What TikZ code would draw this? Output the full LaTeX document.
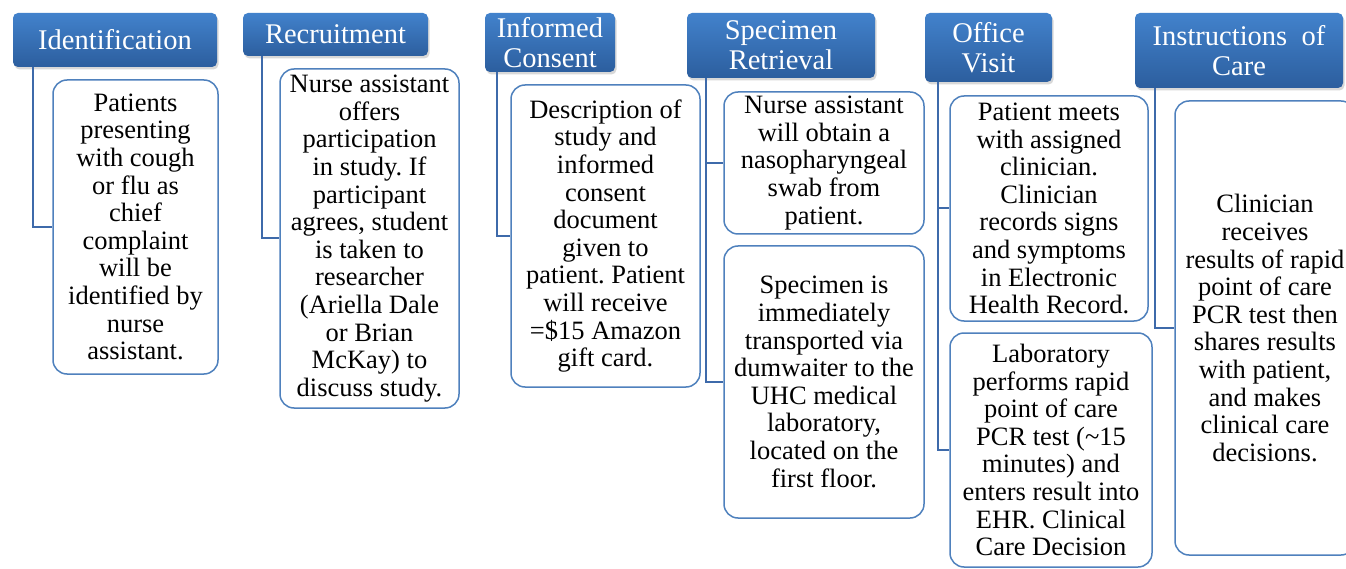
\documentclass[tikz,border=0pt]{standalone}
\usepackage{fontspec}
\setmainfont{Liberation Serif}
\frenchspacing
\usetikzlibrary{shadows}
\definecolor{hdrtop}{RGB}{66,130,204}
\definecolor{hdrbot}{RGB}{44,94,158}
\definecolor{boxline}{RGB}{79,129,189}
\definecolor{connline}{RGB}{62,106,170}
\tikzset{
  hdr/.style={rounded corners=5pt, top color=hdrtop, bottom color=hdrbot, draw=none,
    text=white, align=center, inner sep=0pt,
    font=\fontsize{28.5}{30}\selectfont,
    drop shadow={opacity=0.3, shadow xshift=1.5pt, shadow yshift=-2.5pt}},
  childbox/.style={rounded corners=14pt, draw=boxline, line width=1.5pt, fill=white,
    align=center, inner sep=0pt, text=black,
    font=\frenchspacing\fontsize{26.5}{27.6}\selectfont},
  conn/.style={draw=connline, line width=2pt}
}
\begin{document}
\begin{tikzpicture}[x=1pt,y=-1pt]
\useasboundingbox (0,0) rectangle (1346,569);
\clip (0,0) rectangle (1346,569);
\fill[white] (0,0) rectangle (1346,569);

% headers
\node[hdr, minimum width=204pt, minimum height=54pt] (h1) at (115,40) {Identification};
\node[hdr, minimum width=185pt, minimum height=43pt] (h2) at (335.5,34.5) {Recruitment};
\node[hdr, minimum width=130pt, minimum height=59pt] (h3) at (550,42.5) {Informed\\Consent};
\node[hdr, minimum width=188pt, minimum height=65pt] (h4) at (781,45.5) {Specimen\\Retrieval};
\node[hdr, minimum width=127pt, minimum height=69pt] (h5) at (988.5,47.5) {Office\\Visit};
\node[hdr, minimum width=208pt, minimum height=75pt] (h6) at (1239,50.5) {Instructions\ \ of\\Care};

% child boxes
\node[childbox, minimum width=165pt, minimum height=294pt] (c1) at (135.5,227)
  {Patients\\presenting\\with cough\\or flu as\\chief\\complaint\\will be\\identified by\\nurse\\assistant.};
\node[childbox, minimum width=179pt, minimum height=339pt] (c2) at (369.5,238.5)
  {Nurse assistant\\offers\\participation\\in study. If\\participant\\agrees, student\\is taken to\\researcher\\(Ariella Dale\\or Brian\\McKay) to\\discuss study.};
\node[childbox, minimum width=189pt, minimum height=302pt] (c3) at (605.5,236)
  {Description of\\study and\\informed\\consent\\document\\given to\\patient. Patient\\will receive\\=\$15 Amazon\\gift card.};
\node[childbox, minimum width=200pt, minimum height=142pt] (c4a) at (824,163)
  {Nurse assistant\\will obtain a\\nasopharyngeal\\swab from\\patient.};
\node[childbox, minimum width=200pt, minimum height=272pt] (c4b) at (824,382)
  {Specimen is\\immediately\\transported via\\dumwaiter to the\\UHC medical\\laboratory,\\located on the\\first floor.};
\node[childbox, minimum width=198pt, minimum height=225pt] (c5a) at (1049,208.5)
  {Patient meets\\with assigned\\clinician.\\Clinician\\records signs\\and symptoms\\in Electronic\\Health Record.};
\node[childbox, minimum width=202pt, minimum height=234pt] (c5b) at (1051,450)
  {Laboratory\\performs rapid\\point of care\\PCR test (\textasciitilde15\\minutes) and\\enters result into\\EHR. Clinical\\Care Decision};
\node[childbox, minimum width=180pt, minimum height=454pt] (c6) at (1265,328)
  {Clinician\\receives\\results of rapid\\point of care\\PCR test then\\shares results\\with patient,\\and makes\\clinical care\\decisions.};

% connectors
\draw[conn] ([xshift=20pt]h1.south west) |- (c1.west);
\draw[conn] ([xshift=19pt]h2.south west) |- (c2.west);
\draw[conn] ([xshift=12pt]h3.south west) |- (c3.west);
\draw[conn] ([xshift=19pt]h4.south west) |- (c4a.west);
\draw[conn] ([xshift=19pt]h4.south west) |- (c4b.west);
\draw[conn] ([xshift=13pt]h5.south west) |- (c5a.west);
\draw[conn] ([xshift=13pt]h5.south west) |- (c5b.west);
\draw[conn] ([xshift=20pt]h6.south west) |- (c6.west);
\end{tikzpicture}
\end{document}
